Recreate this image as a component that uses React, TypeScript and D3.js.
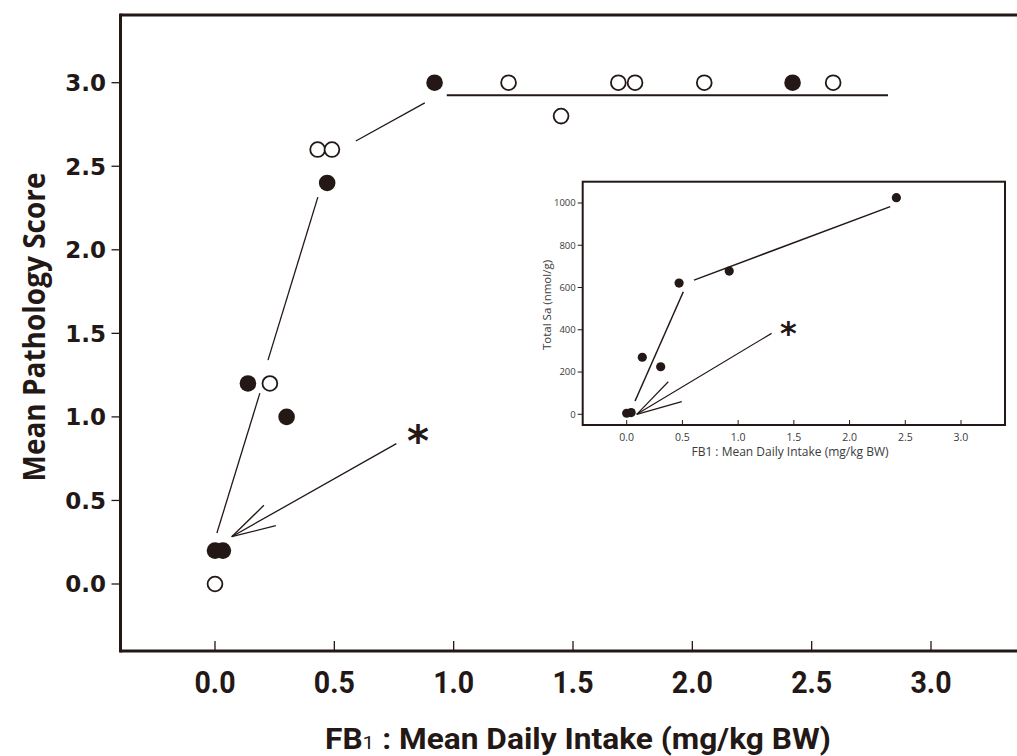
import * as d3 from "d3";

// main chart data (FB1 intake mg/kg BW vs mean pathology score)
const filledPts: [number, number][] = [
  [0, 0.2], [0.033, 0.2], [0.138, 1.2], [0.3, 1.0], [0.47, 2.4], [0.92, 3.0], [2.42, 3.0],
];
const openPts: [number, number][] = [
  [0, 0], [0.23, 1.2], [0.43, 2.6], [0.49, 2.6], [1.23, 3.0], [1.45, 2.8],
  [1.69, 3.0], [1.76, 3.0], [2.05, 3.0], [2.59, 3.0],
];
const mainTicks = [0, 0.5, 1.0, 1.5, 2.0, 2.5, 3.0];
// trend segments, in data units
const mainSegments: [number, number, number, number][] = [
  [0.008, 0.305, 0.188, 1.142],
  [0.222, 1.34, 0.431, 2.315],
  [0.59, 2.651, 0.879, 2.879],
  [0.971, 2.925, 2.82, 2.925],
];
const mainArrow = { from: [0.76, 0.84], tip: [0.07, 0.283], h1: [0.205, 0.471], h2: [0.255, 0.349] };
const mainStar: [number, number] = [0.85, 0.88];

// inset data (total Sa nmol/g)
const insetPts: [number, number][] = [
  [0, 5], [0.04, 8], [0.14, 270], [0.305, 225], [0.47, 621], [0.92, 678], [2.42, 1025],
];
const insetXTicks = [0, 0.5, 1.0, 1.5, 2.0, 2.5, 3.0];
const insetYTicks = [0, 200, 400, 600, 800, 1000];
const insetSegments: [number, number, number, number][] = [
  [0.075, 63, 0.508, 580],
  [0.604, 635, 2.365, 983],
];
const insetArrow = { from: [1.3, 383], tip: [0.09, 0], h1: [0.373, 154], h2: [0.494, 60] };
const insetStar: [number, number] = [1.45, 400];

const W = 1017;
const H = 756;
const ink = "#231815";
const frameLeft = 120.5;
const frameTop = 15;
const frameBottom = 651;

const App = () => {
  const x = d3.scaleLinear().domain([0, 3]).range([215, 931]);
  const y = d3.scaleLinear().domain([0, 3]).range([584, 82.7]);

  const ix = d3.scaleLinear().domain([0, 3]).range([626.7, 961]);
  const iy = d3.scaleLinear().domain([0, 1000]).range([414.3, 203]);
  const inset = { x0: 582.7, y0: 181.7, x1: 1005, y1: 425 };

  const boldFont = "'DejaVu Sans', sans-serif";
  const narrowFont = "Roboto, 'Open Sans', sans-serif";

  return (
    <svg
      width={W}
      height={H}
      viewBox={`0 0 ${W} ${H}`}
      style={{ position: "absolute", left: 0, top: 0, background: "#fff" }}
    >
      {/* frame */}
      <g stroke={ink} strokeWidth={3} fill="none">
        <line x1={frameLeft} x2={W} y1={frameTop} y2={frameTop} />
        <line x1={frameLeft} x2={W} y1={frameBottom} y2={frameBottom} />
        <line x1={frameLeft} x2={frameLeft} y1={frameTop - 1.5} y2={frameBottom + 1.5} />
      </g>

      {/* y axis ticks */}
      <g className="y-axis">
        {mainTicks.map((t) => (
          <g key={t}>
            <line x1={frameLeft - 9} x2={frameLeft} y1={y(t)} y2={y(t)} stroke={ink} strokeWidth={1.3} />
            <text
              x={106}
              y={y(t)}
              dy="0.36em"
              textAnchor="end"
              fontFamily={boldFont}
              fontWeight="bold"
              fontSize={23}
              fill={ink}
            >
              {t.toFixed(1)}
            </text>
          </g>
        ))}
      </g>

      {/* x axis ticks */}
      <g className="x-axis">
        {mainTicks.map((t) => (
          <g key={t}>
            <line x1={x(t)} x2={x(t)} y1={frameBottom - 10} y2={frameBottom} stroke={ink} strokeWidth={1.3} />
            <text
              x={x(t)}
              y={693}
              textAnchor="middle"
              fontFamily={narrowFont}
              fontWeight="bold"
              fontSize={32}
              textLength={41}
              lengthAdjust="spacingAndGlyphs"
              fill={ink}
            >
              {t.toFixed(1)}
            </text>
          </g>
        ))}
      </g>

      {/* axis titles */}
      <text
        transform={`translate(45,327) rotate(-90)`}
        textAnchor="middle"
        fontFamily="'Open Sans', sans-serif"
        fontWeight="bold"
        fontSize={30}
        textLength={309}
        lengthAdjust="spacingAndGlyphs"
        fill={ink}
      >
        Mean Pathology Score
      </text>
      <text
        x={325}
        y={749}
        fontFamily={narrowFont}
        fontWeight="bold"
        fontSize={29}
        textLength={506}
        lengthAdjust="spacingAndGlyphs"
        fill={ink}
      >
        FB<tspan fontSize={19} fontWeight="normal">1</tspan> : Mean Daily Intake (mg/kg BW)
      </text>

      {/* trend lines */}
      <g stroke={ink} fill="none">
        {mainSegments.map((s, i) => (
          <line
            key={i}
            x1={x(s[0])}
            y1={y(s[1])}
            x2={x(s[2])}
            y2={y(s[3])}
            strokeWidth={i === 3 ? 1.8 : 1.3}
          />
        ))}
        <line x1={x(mainArrow.from[0])} y1={y(mainArrow.from[1])} x2={x(mainArrow.tip[0])} y2={y(mainArrow.tip[1])} strokeWidth={1.3} />
        <line x1={x(mainArrow.h1[0])} y1={y(mainArrow.h1[1])} x2={x(mainArrow.tip[0])} y2={y(mainArrow.tip[1])} strokeWidth={1.3} />
        <line x1={x(mainArrow.h2[0])} y1={y(mainArrow.h2[1])} x2={x(mainArrow.tip[0])} y2={y(mainArrow.tip[1])} strokeWidth={1.3} />
      </g>
      <text
        x={x(mainStar[0])}
        y={y(mainStar[1])}
        dy="0.45em"
        textAnchor="middle"
        fontFamily="'DejaVu Sans', sans-serif"
        fontWeight="bold"
        fontSize={42}
        fill={ink}
      >
        *
      </text>

      {/* markers */}
      <g className="filled">
        {filledPts.map((d, i) => (
          <circle key={i} cx={x(d[0])} cy={y(d[1])} r={8.3} fill={ink} />
        ))}
      </g>
      <g className="open">
        {openPts.map((d, i) => (
          <circle key={i} cx={x(d[0])} cy={y(d[1])} r={7.4} fill="#fff" stroke={ink} strokeWidth={1.8} />
        ))}
      </g>

      {/* inset */}
      <g className="inset">
        <rect
          x={inset.x0}
          y={inset.y0}
          width={inset.x1 - inset.x0}
          height={inset.y1 - inset.y0}
          fill="#fff"
          stroke={ink}
          strokeWidth={2}
        />
        {insetYTicks.map((t) => (
          <g key={t}>
            <line x1={inset.x0 - 5} x2={inset.x0} y1={iy(t)} y2={iy(t)} stroke={ink} strokeWidth={1} />
            <text
              x={inset.x0 - 7}
              y={iy(t)}
              dy="0.35em"
              textAnchor="end"
              fontFamily="'Open Sans', sans-serif"
              fontSize={9.5}
              fill="#3a3a3a"
            >
              {t}
            </text>
          </g>
        ))}
        {insetXTicks.map((t) => (
          <g key={t}>
            <line x1={ix(t)} x2={ix(t)} y1={inset.y1 - 5} y2={inset.y1} stroke={ink} strokeWidth={1} />
            <text
              x={ix(t)}
              y={inset.y1 + 16}
              textAnchor="middle"
              fontFamily="'Open Sans', sans-serif"
              fontSize={10.5}
              fill="#3a3a3a"
            >
              {t.toFixed(1)}
            </text>
          </g>
        ))}
        <text
          transform={`translate(551,305) rotate(-90)`}
          textAnchor="middle"
          fontFamily="'Open Sans', sans-serif"
          fontSize={11.5}
          fill="#3a3a3a"
        >
          Total Sa (nmol/g)
        </text>
        <text
          x={790}
          y={456}
          textAnchor="middle"
          fontFamily="'Open Sans', sans-serif"
          fontSize={12}
          fill="#3a3a3a"
        >
          FB1 : Mean Daily Intake (mg/kg BW)
        </text>
        <g stroke={ink} fill="none" strokeWidth={1.5}>
          {insetSegments.map((s, i) => (
            <line key={i} x1={ix(s[0])} y1={iy(s[1])} x2={ix(s[2])} y2={iy(s[3])} />
          ))}
          <line x1={ix(insetArrow.from[0])} y1={iy(insetArrow.from[1])} x2={ix(insetArrow.tip[0])} y2={iy(insetArrow.tip[1])} strokeWidth={1.2} />
          <line x1={ix(insetArrow.h1[0])} y1={iy(insetArrow.h1[1])} x2={ix(insetArrow.tip[0])} y2={iy(insetArrow.tip[1])} strokeWidth={1.2} />
          <line x1={ix(insetArrow.h2[0])} y1={iy(insetArrow.h2[1])} x2={ix(insetArrow.tip[0])} y2={iy(insetArrow.tip[1])} strokeWidth={1.2} />
        </g>
        <text
          x={ix(insetStar[0])}
          y={iy(insetStar[1])}
          dy="0.45em"
          textAnchor="middle"
          fontFamily="'DejaVu Sans', sans-serif"
          fontWeight="bold"
          fontSize={32}
          fill={ink}
        >
          *
        </text>
        {insetPts.map((d, i) => (
          <circle key={i} cx={ix(d[0])} cy={iy(d[1])} r={4.6} fill={ink} />
        ))}
      </g>
    </svg>
  );
};

export default App;
